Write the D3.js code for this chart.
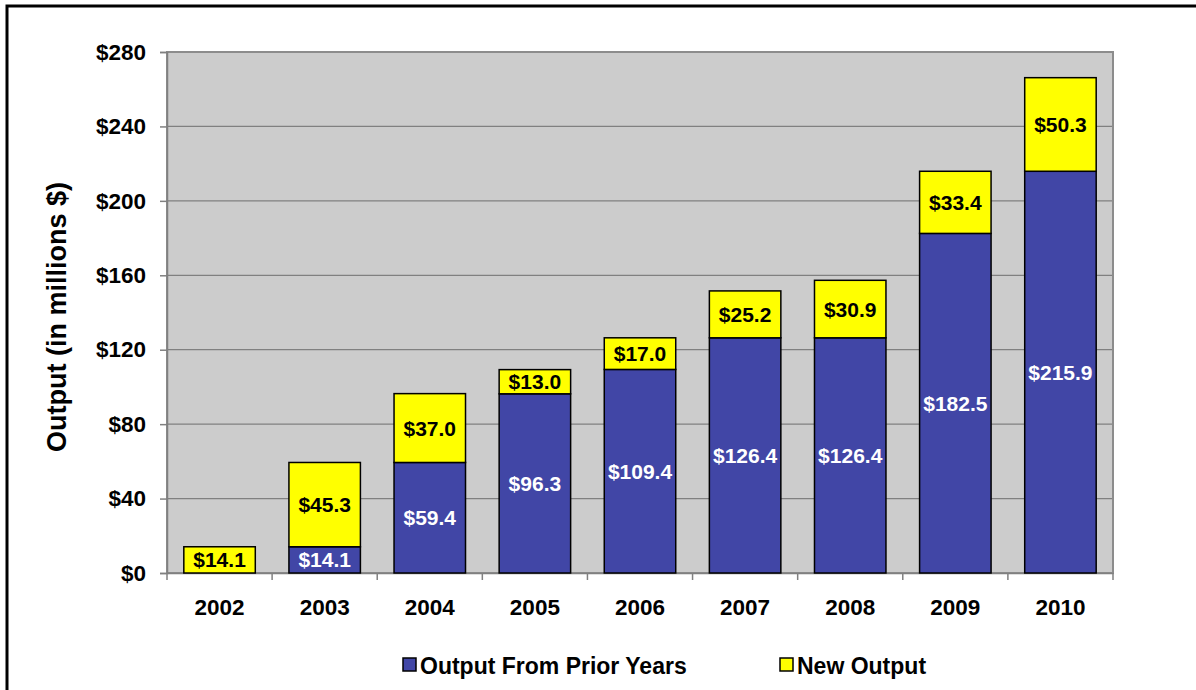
<!DOCTYPE html>
<html>
<head>
<meta charset="utf-8">
<script src="https://cdn.jsdelivr.net/npm/d3@7"></script>
<style>
  body { margin: 0; background: #fff; }
  svg { display: block; font-family: "Liberation Sans", Arial, sans-serif; font-weight: bold; }
</style>
</head>
<body>
<svg id="chart" width="1196" height="690"></svg>
<script>
// chart data
var years = ["2002", "2003", "2004", "2005", "2006", "2007", "2008", "2009", "2010"];
var priorOutput = [0, 14.1, 59.4, 96.3, 109.4, 126.4, 126.4, 182.5, 215.9];
var newOutput = [14.1, 45.3, 37.0, 13.0, 17.0, 25.2, 30.9, 33.4, 50.3];
var yTicks = [0, 40, 80, 120, 160, 200, 240, 280];
var seriesNames = ["Output From Prior Years", "New Output"];

var blue = "#4146a6", yellow = "#ffff00";

var svg = d3.select("#chart");
var plotLeft = 167, plotRight = 1113, plotTop = 52, plotBottom = 573;
var fontFamily = "Liberation Sans, Arial, sans-serif";

// outer frame
svg.append("rect")
    .attr("x", 7).attr("y", 6)
    .attr("width", 1196).attr("height", 700)
    .attr("fill", "none").attr("stroke", "#000").attr("stroke-width", 3);

var x = d3.scaleBand().domain(years).range([plotLeft, plotRight]).paddingInner(0.32).paddingOuter(0.16);
var band = d3.scaleBand().domain(years).range([plotLeft, plotRight]);
var y = d3.scaleLinear().domain([0, 280]).range([plotBottom, plotTop]);

// plot background
svg.append("rect")
    .attr("x", plotLeft).attr("y", plotTop)
    .attr("width", plotRight - plotLeft).attr("height", plotBottom - plotTop)
    .attr("fill", "#cccccc");

// gridlines
svg.append("g").selectAll("line")
    .data(yTicks.filter(d => d > 0 && d < 280))
    .join("line")
    .attr("x1", plotLeft).attr("x2", plotRight)
    .attr("y1", d => y(d)).attr("y2", d => y(d))
    .attr("stroke", "#808080").attr("stroke-width", 1.2);

// plot border
svg.append("rect")
    .attr("x", plotLeft).attr("y", plotTop)
    .attr("width", plotRight - plotLeft).attr("height", plotBottom - plotTop)
    .attr("fill", "none").attr("stroke", "#8c8c8c").attr("stroke-width", 2);

// y axis
var yAxis = svg.append("g")
    .attr("transform", `translate(${plotLeft},0)`)
    .call(d3.axisLeft(y).tickValues(yTicks).tickSize(7).tickPadding(14).tickFormat(d => "$" + d));
yAxis.select(".domain").attr("stroke", "#808080").attr("stroke-width", 1.5);
yAxis.selectAll(".tick line").attr("stroke", "#808080").attr("stroke-width", 1.5);
yAxis.selectAll(".tick text").attr("font-size", 22.5).attr("font-weight", "bold").attr("fill", "#000")
    .attr("font-family", fontFamily);

// x axis
var xAxis = svg.append("g")
    .attr("transform", `translate(0,${plotBottom})`)
    .call(d3.axisBottom(band).tickSize(0).tickPadding(26));
xAxis.select(".domain").attr("stroke", "#808080").attr("stroke-width", 1.5);
xAxis.selectAll(".tick text").attr("font-size", 22.5).attr("font-weight", "bold").attr("fill", "#000")
    .attr("font-family", fontFamily);
// category separators
svg.append("g").selectAll("line")
    .data(years.concat(["end"]))
    .join("line")
    .attr("x1", (d, i) => i < years.length ? band(d) : plotRight)
    .attr("x2", (d, i) => i < years.length ? band(d) : plotRight)
    .attr("y1", plotBottom).attr("y2", plotBottom + 7)
    .attr("stroke", "#808080").attr("stroke-width", 1.5);

// bars
var rows = years.map((yr, i) => ({ year: yr, prior: priorOutput[i], added: newOutput[i] }));

var g = svg.append("g");
rows.forEach(function (d) {
    if (d.prior > 0) {
        g.append("rect")
            .attr("x", x(d.year)).attr("width", x.bandwidth())
            .attr("y", y(d.prior)).attr("height", y(0) - y(d.prior))
            .attr("fill", blue).attr("stroke", "#000").attr("stroke-width", 1.5);
    }
    g.append("rect")
        .attr("x", x(d.year)).attr("width", x.bandwidth())
        .attr("y", y(d.prior + d.added)).attr("height", y(d.prior) - y(d.prior + d.added))
        .attr("fill", yellow).attr("stroke", "#000").attr("stroke-width", 1.5);
});

// value labels
rows.forEach(function (d) {
    var cx = x(d.year) + x.bandwidth() / 2;
    if (d.prior > 0) {
        g.append("text")
            .attr("x", cx).attr("y", (y(0) + y(d.prior)) / 2)
            .attr("dy", "0.36em").attr("text-anchor", "middle")
            .attr("font-size", 21).attr("fill", "#fff")
            .text("$" + d.prior.toFixed(1));
    }
    g.append("text")
        .attr("x", cx).attr("y", (y(d.prior) + y(d.prior + d.added)) / 2)
        .attr("dy", "0.36em").attr("text-anchor", "middle")
        .attr("font-size", 21).attr("fill", "#000")
        .text("$" + d.added.toFixed(1));
});

// y axis title
svg.append("text")
    .attr("transform", "translate(56,317) rotate(-90)")
    .attr("text-anchor", "middle").attr("dy", "0.36em")
    .attr("font-size", 27).attr("fill", "#000")
    .text("Output (in millions $)");

// legend
var legend = svg.append("g");
var legendX = [403, 780];
[blue, yellow].forEach(function (c, i) {
    legend.append("rect")
        .attr("x", legendX[i]).attr("y", 658)
        .attr("width", 13).attr("height", 13)
        .attr("fill", c).attr("stroke", "#000").attr("stroke-width", 1.5);
    legend.append("text")
        .attr("x", legendX[i] + 17).attr("y", 666)
        .attr("dy", "0.36em")
        .attr("font-size", 23).attr("fill", "#000")
        .text(seriesNames[i]);
});
</script>
</body>
</html>
